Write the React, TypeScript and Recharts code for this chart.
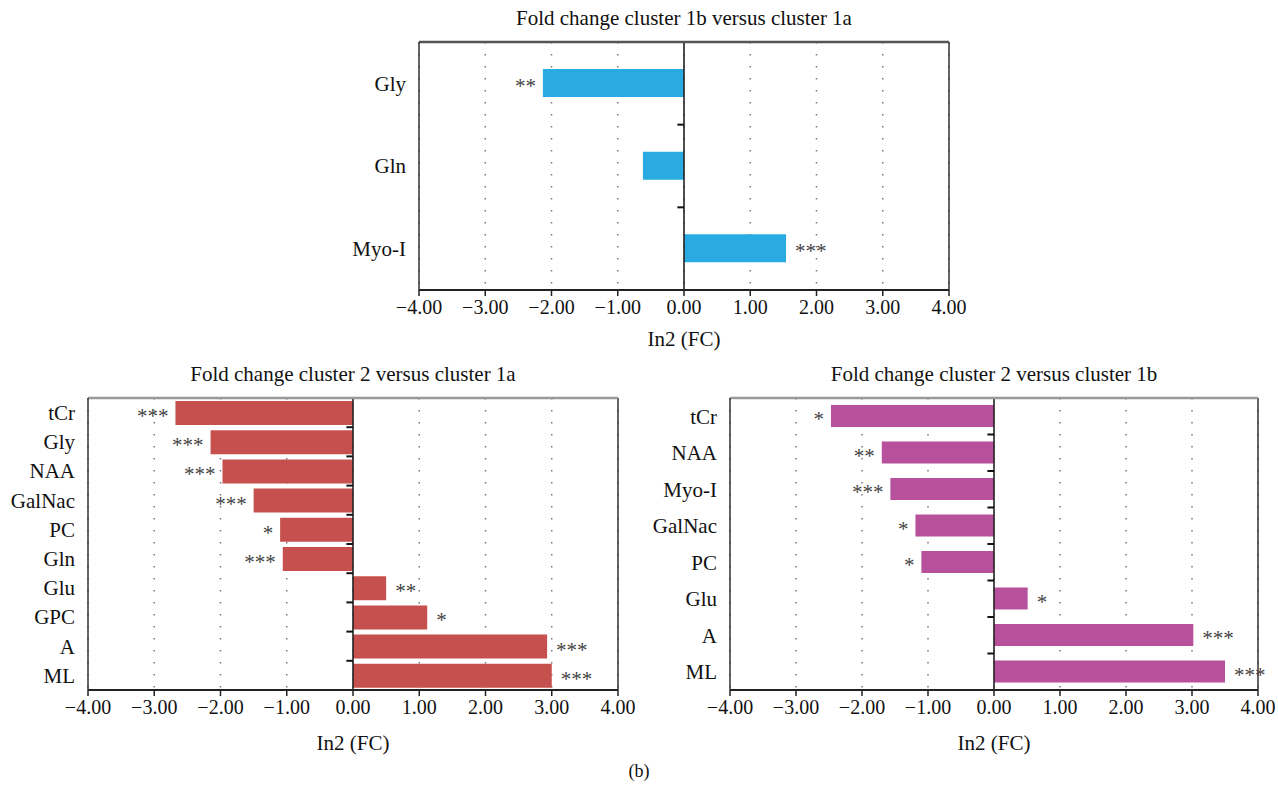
import React from 'react';
import {
  BarChart,
  Bar,
  XAxis,
  YAxis,
  CartesianGrid,
  ReferenceLine,
  LabelList,
} from 'recharts';

const topCats = ['Gly', 'Gln', 'Myo-I'];
const topVals = [-2.13, -0.62, 1.54];
const topSig = ['**', '', '***'];

const leftCats = ['tCr', 'Gly', 'NAA', 'GalNac', 'PC', 'Gln', 'Glu', 'GPC', 'A', 'ML'];
const leftVals = [-2.68, -2.15, -1.97, -1.5, -1.1, -1.06, 0.5, 1.12, 2.93, 3.0];
const leftSig = ['***', '***', '***', '***', '*', '***', '**', '*', '***', '***'];

const rightCats = ['tCr', 'NAA', 'Myo-I', 'GalNac', 'PC', 'Glu', 'A', 'ML'];
const rightVals = [-2.47, -1.7, -1.57, -1.19, -1.1, 0.51, 3.02, 3.5];
const rightSig = ['*', '**', '***', '*', '*', '*', '***', '***'];

const xTicks = [-4, -3, -2, -1, 0, 1, 2, 3, 4];

const FONT = '"Liberation Serif", "DejaVu Serif", serif';

const fmt = (v: number) => (v < 0 ? '\u2212' : '') + Math.abs(v).toFixed(2);

interface PanelProps {
  title: string;
  cats: string[];
  vals: number[];
  sig: string[];
  color: string;
  left: number;
  top: number;
  width: number;
  height: number;
  margin: { top: number; right: number; left: number; bottom: number };
  yWidth: number;
  barSize: number;
  borderColor: string;
  labelOffset: number;
}

const Panel: React.FC<PanelProps> = (p) => {
  const data = p.cats.map((name, i) => ({ name, v: p.vals[i], sig: p.sig[i] }));
  const plotLeft = p.margin.left + p.yWidth;
  const plotRight = p.width - p.margin.right;

  const renderSig = (props: any) => {
    const { x, y, width, height, index } = props;
    const d = data[index];
    if (!d || !d.sig) return null;
    const lo = Math.min(x, x + width);
    const hi = Math.max(x, x + width);
    const neg = d.v < 0;
    return (
      <text
        x={neg ? lo - 7 : hi + 9}
        y={y + height / 2 + 10}
        textAnchor={neg ? 'end' : 'start'}
        fill="#444"
        fontSize={21}
        fontFamily={FONT}
      >
        {d.sig}
      </text>
    );
  };

  return (
    <div style={{ position: 'absolute', left: p.left, top: p.top, width: p.width, height: p.height }}>
      <div
        style={{
          position: 'absolute',
          top: p.margin.top - 36,
          left: plotLeft,
          width: plotRight - plotLeft,
          textAlign: 'center',
          fontFamily: FONT,
          fontSize: 21,
          color: '#111',
          whiteSpace: 'nowrap',
        }}
      >
        {p.title}
      </div>
      <BarChart
        width={p.width}
        height={p.height}
        data={data}
        layout="vertical"
        margin={p.margin}
        style={{ fontFamily: FONT }}
      >
        <CartesianGrid
          horizontal={false}
          stroke="#777"
          strokeWidth={1.5}
          strokeDasharray="1.5 10.5"
        />
        <XAxis
          type="number"
          domain={[-4, 4]}
          ticks={xTicks}
          tickFormatter={fmt}
          interval={0}
          height={62}
          tick={{ fill: '#111', fontSize: 20, fontFamily: FONT }}
          tickSize={6}
          tickMargin={4}
          axisLine={{ stroke: '#222', strokeWidth: 2 }}
          tickLine={{ stroke: '#222', strokeWidth: 1.5 }}
          label={{ value: 'In2 (FC)', position: 'insideBottom', offset: p.labelOffset, fill: '#111', fontSize: 21, fontFamily: FONT }}
        />
        <YAxis
          type="category"
          dataKey="name"
          width={p.yWidth}
          interval={0}
          tickSize={0}
          tickMargin={13}
          tickLine={false}
          tick={{ fill: '#111', fontSize: 21, fontFamily: FONT }}
          axisLine={{ stroke: '#333', strokeWidth: 1.5 }}
        />
        <Bar dataKey="v" fill={p.color} barSize={p.barSize} isAnimationActive={false}>
          <LabelList dataKey="sig" content={renderSig} />
        </Bar>
        <ReferenceLine x={0} stroke="#222" strokeWidth={1.6} />
        <ReferenceLine x={4} stroke="#333" strokeWidth={1.5} />
        <ReferenceLine y={p.cats[0]} position="start" stroke={p.borderColor} strokeWidth={2.5} />
        {p.cats.slice(1).map((c) => (
          <ReferenceLine
            key={c}
            position="start"
            segment={[
              { x: -0.1, y: c },
              { x: 0, y: c },
            ]}
            stroke="#111"
            strokeWidth={2}
          />
        ))}
      </BarChart>
    </div>
  );
};

export default function App() {
  return (
    <div style={{ position: 'absolute', left: 0, top: 0, width: 1278, height: 792, background: '#fff' }}>
      <Panel
        title="Fold change cluster 1b versus cluster 1a"
        cats={topCats}
        vals={topVals}
        sig={topSig}
        color="#29ABE2"
        left={300}
        top={0}
        width={700}
        height={360}
        margin={{ top: 42, right: 51, left: 9, bottom: 8 }}
        yWidth={110}
        barSize={28}
        borderColor="#555"
        labelOffset={6}
      />
      <Panel
        title="Fold change cluster 2 versus cluster 1a"
        cats={leftCats}
        vals={leftVals}
        sig={leftSig}
        color="#C5504E"
        left={0}
        top={360}
        width={660}
        height={400}
        margin={{ top: 38, right: 42, left: 18, bottom: 8 }}
        yWidth={70}
        barSize={24}
        borderColor="#999"
        labelOffset={2}
      />
      <Panel
        title="Fold change cluster 2 versus cluster 1b"
        cats={rightCats}
        vals={rightVals}
        sig={rightSig}
        color="#B8519B"
        left={640}
        top={360}
        width={638}
        height={400}
        margin={{ top: 38, right: 20, left: 14, bottom: 8 }}
        yWidth={76}
        barSize={22}
        borderColor="#999"
        labelOffset={2}
      />
      <div
        style={{
          position: 'absolute',
          left: 0,
          width: 1278,
          top: 761,
          textAlign: 'center',
          fontFamily: FONT,
          fontSize: 18,
          color: '#111',
        }}
      >
        (b)
      </div>
    </div>
  );
}
